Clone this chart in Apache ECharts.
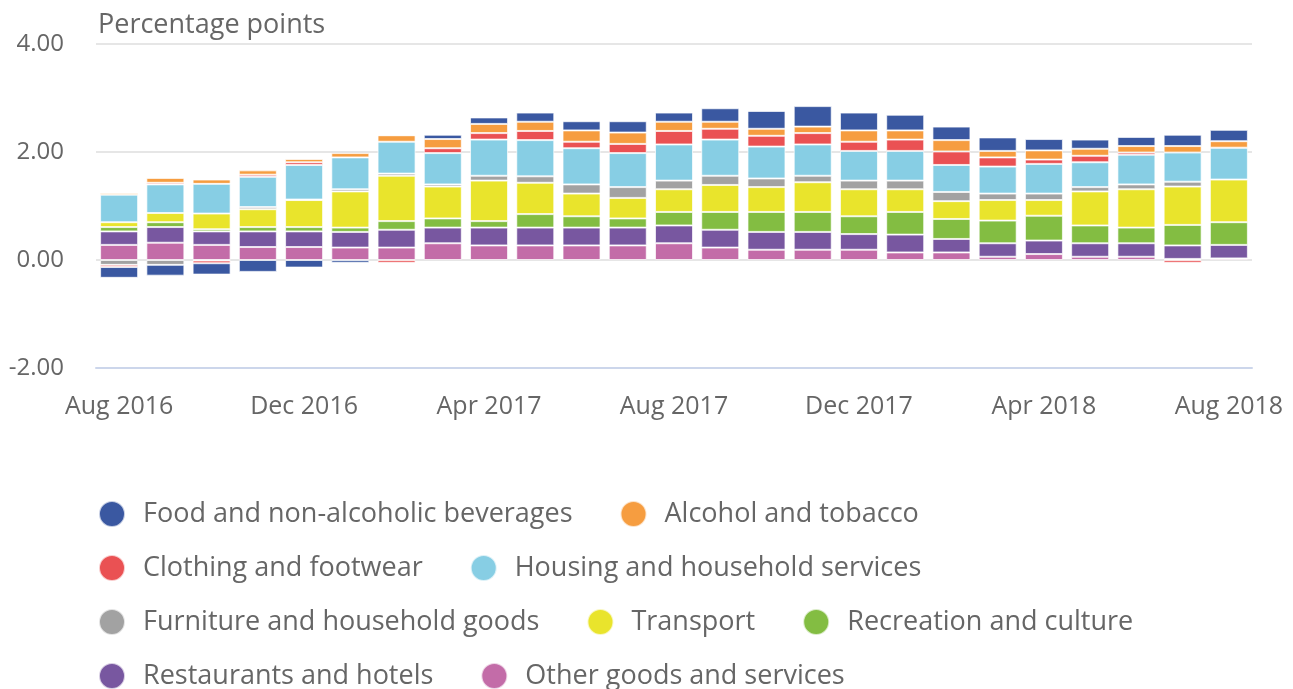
<!DOCTYPE html>
<html>
<head>
<meta charset="utf-8">
<script src="https://cdn.jsdelivr.net/npm/echarts@6/dist/echarts.min.js"></script>
<style>
  html, body { margin: 0; padding: 0; background: #fff; }
  #chart { width: 1293px; height: 689px; }
</style>
</head>
<body>
<div id="chart"></div>
<script>
// months on the category axis
const months = [
  'Aug 2016', 'Sep 2016', 'Oct 2016', 'Nov 2016', 'Dec 2016',
  'Jan 2017', 'Feb 2017', 'Mar 2017', 'Apr 2017', 'May 2017', 'Jun 2017', 'Jul 2017',
  'Aug 2017', 'Sep 2017', 'Oct 2017', 'Nov 2017', 'Dec 2017',
  'Jan 2018', 'Feb 2018', 'Mar 2018', 'Apr 2018', 'May 2018', 'Jun 2018', 'Jul 2018', 'Aug 2018'
];

// contributions, percentage points
const food        = [-0.20, -0.20, -0.21, -0.22, -0.14, -0.05, 0, 0.08, 0.12, 0.17, 0.17, 0.21, 0.17, 0.25, 0.33, 0.38, 0.33, 0.29, 0.25, 0.25, 0.21, 0.17, 0.17, 0.21, 0.21];
const alcohol     = [0.03, 0.09, 0.08, 0.08, 0.06, 0.08, 0.12, 0.17, 0.17, 0.17, 0.21, 0.21, 0.17, 0.13, 0.13, 0.12, 0.21, 0.17, 0.21, 0.12, 0.17, 0.13, 0.12, 0.12, 0.12];
const clothing    = [-0.04, 0.03, -0.05, 0.04, 0.05, 0, -0.05, 0.09, 0.12, 0.17, 0.12, 0.17, 0.25, 0.20, 0.20, 0.21, 0.17, 0.21, 0.25, 0.17, 0.08, 0.12, 0.04, -0.05, 0];
const housing     = [0.51, 0.53, 0.55, 0.56, 0.64, 0.59, 0.59, 0.58, 0.67, 0.67, 0.67, 0.63, 0.67, 0.67, 0.59, 0.58, 0.55, 0.55, 0.50, 0.50, 0.55, 0.46, 0.55, 0.54, 0.59];
const furniture   = [-0.09, -0.09, -0.01, 0.04, 0.01, 0.04, 0.04, 0.04, 0.09, 0.12, 0.17, 0.20, 0.16, 0.17, 0.16, 0.12, 0.16, 0.16, 0.17, 0.12, 0.12, 0.08, 0.09, 0.09, 0];
const transport   = [0.09, 0.17, 0.29, 0.33, 0.50, 0.67, 0.84, 0.59, 0.75, 0.58, 0.42, 0.38, 0.42, 0.50, 0.46, 0.55, 0.50, 0.42, 0.33, 0.38, 0.29, 0.63, 0.71, 0.71, 0.79];
const recreation  = [0.08, 0.09, 0.04, 0.08, 0.08, 0.08, 0.16, 0.17, 0.12, 0.25, 0.21, 0.17, 0.25, 0.33, 0.37, 0.37, 0.33, 0.42, 0.37, 0.42, 0.46, 0.33, 0.29, 0.38, 0.42];
const restaurants = [0.25, 0.29, 0.25, 0.29, 0.29, 0.29, 0.33, 0.29, 0.33, 0.33, 0.33, 0.33, 0.33, 0.33, 0.33, 0.33, 0.29, 0.33, 0.25, 0.25, 0.25, 0.25, 0.25, 0.25, 0.25];
const other       = [0.28, 0.32, 0.28, 0.24, 0.24, 0.23, 0.23, 0.31, 0.27, 0.27, 0.27, 0.27, 0.31, 0.23, 0.19, 0.19, 0.19, 0.14, 0.14, 0.06, 0.11, 0.06, 0.06, 0.02, 0.03];

const legendOrder = [
  'Food and non-alcoholic beverages', 'Alcohol and tobacco',
  'Clothing and footwear', 'Housing and household services',
  'Furniture and household goods', 'Transport', 'Recreation and culture',
  'Restaurants and hotels', 'Other goods and services'
];

// bottom-up stacking order
const stackOrder = [
  ['Other goods and services', other, '#c36ca8'],
  ['Restaurants and hotels', restaurants, '#7857a0'],
  ['Recreation and culture', recreation, '#83bd42'],
  ['Transport', transport, '#e9e42c'],
  ['Furniture and household goods', furniture, '#a2a2a2'],
  ['Housing and household services', housing, '#87cee4'],
  ['Clothing and footwear', clothing, '#ea5153'],
  ['Alcohol and tobacco', alcohol, '#f69d40'],
  ['Food and non-alcoholic beverages', food, '#3a58a1']
];

const font = '"Open Sans", sans-serif';
const chart = echarts.init(document.getElementById('chart'));

chart.setOption({
  animation: false,
  textStyle: { fontFamily: font },
  title: {
    text: 'Percentage points',
    left: 93, top: 7,
    textStyle: { fontFamily: font, fontSize: 27, fontWeight: 'normal', color: '#666' }
  },
  legend: {
    data: legendOrder,
    left: 93, top: 495, width: 1130,
    icon: 'circle',
    itemWidth: 26, itemHeight: 26, itemGap: 26,
    textStyle: { fontFamily: font, fontSize: 27, color: '#666', lineHeight: 28, padding: [0, 21, 0, 13] }
  },
  grid: { left: 96, right: 41, top: 44, bottom: 321 },
  xAxis: {
    type: 'category',
    data: months,
    axisLine: { onZero: false, lineStyle: { color: '#ccd6eb', width: 2 } },
    axisTick: { interval: 3, alignWithLabel: true, length: 20, lineStyle: { color: '#ccd6eb', width: 2 } },
    axisLabel: { interval: 3, margin: 26, fontSize: 25, color: '#666', fontFamily: font }
  },
  yAxis: {
    type: 'value',
    min: -2, max: 4, interval: 2,
    axisLine: { show: false },
    axisTick: { show: false },
    axisLabel: { margin: 32, fontSize: 24, color: '#666', fontFamily: font, formatter: v => v.toFixed(2) },
    splitLine: { lineStyle: { color: '#e6e6e6', width: 2 } }
  },
  series: stackOrder.map(([name, values, color]) => ({
    name: name,
    type: 'bar',
    stack: 'total',
    barWidth: 38,
    data: values,
    itemStyle: { color: color, borderColor: 'rgba(255,255,255,0.7)', borderWidth: 1 }
  }))
});
</script>
</body>
</html>
